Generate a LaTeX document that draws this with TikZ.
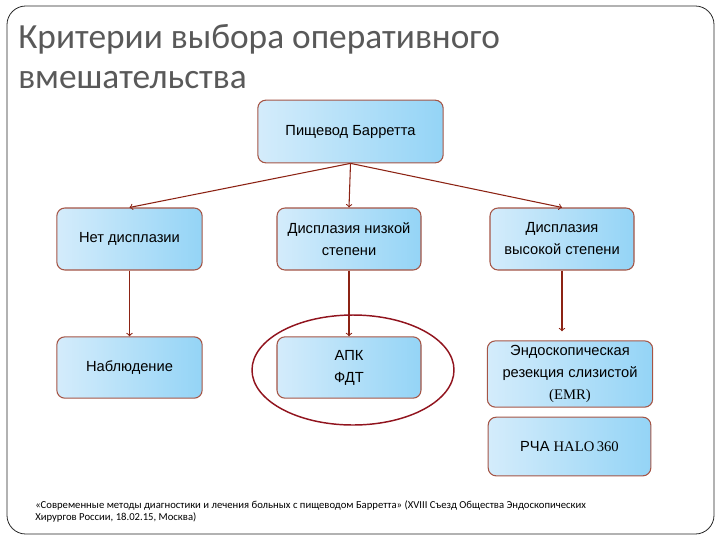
\documentclass[tikz,border=0pt]{standalone}
\usepackage{fontspec}
\setmainfont{Liberation Sans}
\newfontfamily\titlefont{Carlito}
\newfontfamily\serifpart{Liberation Serif}
\usepackage{xcolor}
\definecolor{boxlight}{RGB}{212,236,251}
\definecolor{boxdark}{RGB}{148,212,246}
\definecolor{boxedge}{RGB}{165,85,70}
\definecolor{arrowred}{RGB}{140,35,20}
\definecolor{focus}{RGB}{145,20,30}
\definecolor{titlegray}{RGB}{89,89,89}
\usetikzlibrary{positioning}
\usetikzlibrary{calc}

\begin{document}
\begin{tikzpicture}[x=0.75pt, y=-0.75pt,
	box/.style={draw=boxedge, line width=0.8pt, rounded corners=6pt,
		left color=boxlight, right color=boxdark, align=center,
		text=black, font=\fontsize{11}{16.5}\selectfont},
	link/.style={draw=arrowred, line width=0.8pt, ->}]
		%page size and frame
		\useasboundingbox (0,0) rectangle (720,540);
		\draw [black!85, line width=0.6pt, rounded corners=14pt] (7,6) rectangle (714,534);
		
		%title
		\node [anchor=base west, align=left, inner sep=0pt, text=titlegray,
			font=\titlefont\fontsize{26.5}{29.5}\selectfont] (title) at (18,88)
			{Критерии выбора оперативного\\вмешательства};
		
		%boxes
		\node [box, minimum width=139pt, minimum height=47pt] (barrett) at (350.5,131.5) {Пищевод Барретта};
		\node [box, minimum width=109pt, minimum height=46.5pt] (nodysp) at (129.5,239) {Нет дисплазии};
		\node [box, minimum width=108pt, minimum height=46.5pt] (lowdysp) at (349,239) {Дисплазия низкой\\степени};
		\node [box, minimum width=108pt, minimum height=46.5pt] (highdysp) at (562,239) {Дисплазия\\высокой степени};
		\node [box, minimum width=109pt, minimum height=46pt] (watch) at (129.5,367.5) {Наблюдение};
		\node [box, minimum width=108pt, minimum height=46pt] (apc) at (349,367.5) {АПК\\ФДТ};
		\node [box, minimum width=124pt, minimum height=45pt] (emr) at (570,374)
			{Эндоскопическая\\резекция слизистой\\{\serifpart(EMR)}};
		\node [box, minimum width=122pt, minimum height=44pt] (rfa) at (569.5,446.5)
			{РЧА {\serifpart HALO\,360}};
		
		%connectors
		\draw [link] (barrett.south) -- (nodysp.north);
		\draw [link] (barrett.south) -- (lowdysp.north);
		\draw [link] (barrett.south) -- (highdysp.north);
		\draw [link] (nodysp.south) -- (watch.north);
		\draw [link] (lowdysp.south) -- (apc.north);
		\draw [link] (highdysp.south) -- ($(highdysp.south |- emr.north)+(0,-9)$);
		
		%focus ring
		\draw [focus, line width=1.1pt] (353,370) ellipse [x radius=101, y radius=55];
		
		%source
		\node [anchor=base west, align=left, inner sep=0pt,
			font=\titlefont\fontsize{8}{9}\selectfont] (source) at (35,520)
			{«Современные методы диагностики и лечения больных с пищеводом Барретта» (XVIII Съезд Общества Эндоскопических\\Хирургов России, 18.02.15, Москва)};
\end{tikzpicture}
\end{document}
